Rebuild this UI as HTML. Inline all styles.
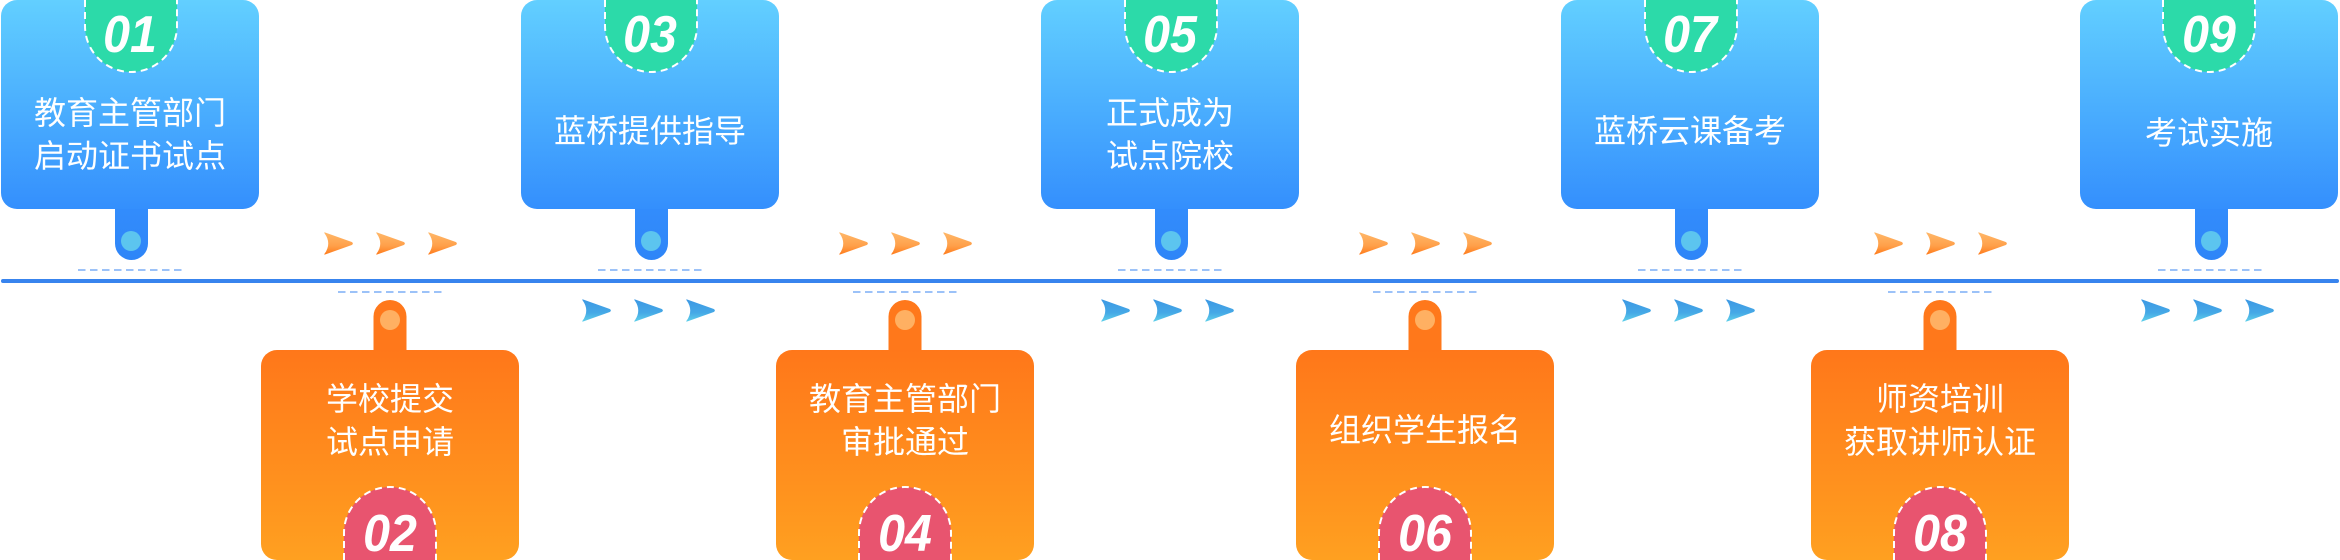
<!DOCTYPE html>
<html>
<head>
<meta charset="utf-8">
<style>
  html,body{margin:0;padding:0;background:#fff;}
  svg{display:block;}
  .t{font-family:"Liberation Sans","Noto Sans CJK SC",sans-serif;font-size:32px;fill:#fff;text-anchor:middle;}
  .n{font-family:"Liberation Sans",sans-serif;font-size:52px;font-weight:bold;font-style:italic;fill:#fff;text-anchor:middle;}
</style>
</head>
<body>
<svg width="2340" height="560" viewBox="0 0 2340 560" xmlns="http://www.w3.org/2000/svg">
  <defs>
    <linearGradient id="gb" x1="0" y1="0" x2="0" y2="1">
      <stop offset="0" stop-color="#62cfff"/>
      <stop offset="1" stop-color="#348ffd"/>
    </linearGradient>
    <linearGradient id="gbs" x1="0" y1="0" x2="0" y2="1">
      <stop offset="0" stop-color="#348ffd"/>
      <stop offset="1" stop-color="#2e85f8"/>
    </linearGradient>
    <linearGradient id="go" x1="0" y1="0" x2="0" y2="1">
      <stop offset="0" stop-color="#ff771a"/>
      <stop offset="1" stop-color="#ffa020"/>
    </linearGradient>
    <linearGradient id="gao" x1="0" y1="0" x2="0" y2="1">
      <stop offset="0" stop-color="#ffb869"/>
      <stop offset="0.6" stop-color="#ffa04a"/>
      <stop offset="1" stop-color="#ff7c1c"/>
    </linearGradient>
    <linearGradient id="gab" x1="0" y1="0" x2="0" y2="1">
      <stop offset="0" stop-color="#3c98e4"/>
      <stop offset="0.6" stop-color="#45a8e6"/>
      <stop offset="1" stop-color="#5fd0ea"/>
    </linearGradient>
    <path id="arr" d="M1.5,1.2 Q0.5,0 2.5,0.6 L28.8,10 Q31,11.5 28.8,13 L2.5,22.4 Q0.5,23 1.5,21.8 Q9,11.5 1.5,1.2 Z"/>
  </defs>

  <!-- main line -->
  <line x1="3" y1="281" x2="2337" y2="281" stroke="#3884ee" stroke-width="4" stroke-linecap="round"/>

  <!-- ===== TOP BOXES ===== -->
  <!-- box 1 -->
  <g>
    <rect x="115" y="190" width="33" height="70" rx="16.5" fill="url(#gbs)"/>
    <rect x="1" y="0" width="258" height="209" rx="16" fill="url(#gb)"/>
    <circle cx="131" cy="241" r="10" fill="#5cc5ef"/>
    <path d="M85,0 V26 A46,46 0 0 0 177,26 V0 Z" fill="#2cdaa9"/>
    <path d="M85,0 V26 A46,46 0 0 0 177,26 V0" fill="none" stroke="#fff" stroke-width="2" stroke-dasharray="7 5"/>
    <text class="n" transform="translate(130,52) scale(0.93,1)">01</text>
    <text class="t" x="130" y="124">教育主管部门</text>
    <text class="t" x="130" y="167">启动证书试点</text>
    <line x1="78" y1="270" x2="182" y2="270" stroke="#9cc2f8" stroke-width="2" stroke-dasharray="7.5 4.5"/>
  </g>
  <!-- box 3 -->
  <g>
    <rect x="635" y="190" width="33" height="70" rx="16.5" fill="url(#gbs)"/>
    <rect x="521" y="0" width="258" height="209" rx="16" fill="url(#gb)"/>
    <circle cx="651" cy="241" r="10" fill="#5cc5ef"/>
    <path d="M605,0 V26 A46,46 0 0 0 697,26 V0 Z" fill="#2cdaa9"/>
    <path d="M605,0 V26 A46,46 0 0 0 697,26 V0" fill="none" stroke="#fff" stroke-width="2" stroke-dasharray="7 5"/>
    <text class="n" transform="translate(650,52) scale(0.93,1)">03</text>
    <text class="t" x="650" y="142">蓝桥提供指导</text>
    <line x1="598" y1="270" x2="702" y2="270" stroke="#9cc2f8" stroke-width="2" stroke-dasharray="7.5 4.5"/>
  </g>
  <!-- box 5 -->
  <g>
    <rect x="1155" y="190" width="33" height="70" rx="16.5" fill="url(#gbs)"/>
    <rect x="1041" y="0" width="258" height="209" rx="16" fill="url(#gb)"/>
    <circle cx="1171" cy="241" r="10" fill="#5cc5ef"/>
    <path d="M1125,0 V26 A46,46 0 0 0 1217,26 V0 Z" fill="#2cdaa9"/>
    <path d="M1125,0 V26 A46,46 0 0 0 1217,26 V0" fill="none" stroke="#fff" stroke-width="2" stroke-dasharray="7 5"/>
    <text class="n" transform="translate(1170,52) scale(0.93,1)">05</text>
    <text class="t" x="1170" y="124">正式成为</text>
    <text class="t" x="1170" y="167">试点院校</text>
    <line x1="1118" y1="270" x2="1222" y2="270" stroke="#9cc2f8" stroke-width="2" stroke-dasharray="7.5 4.5"/>
  </g>
  <!-- box 7 -->
  <g>
    <rect x="1675" y="190" width="33" height="70" rx="16.5" fill="url(#gbs)"/>
    <rect x="1561" y="0" width="258" height="209" rx="16" fill="url(#gb)"/>
    <circle cx="1691" cy="241" r="10" fill="#5cc5ef"/>
    <path d="M1645,0 V26 A46,46 0 0 0 1737,26 V0 Z" fill="#2cdaa9"/>
    <path d="M1645,0 V26 A46,46 0 0 0 1737,26 V0" fill="none" stroke="#fff" stroke-width="2" stroke-dasharray="7 5"/>
    <text class="n" transform="translate(1690,52) scale(0.93,1)">07</text>
    <text class="t" x="1690" y="142">蓝桥云课备考</text>
    <line x1="1638" y1="270" x2="1742" y2="270" stroke="#9cc2f8" stroke-width="2" stroke-dasharray="7.5 4.5"/>
  </g>
  <!-- box 9 -->
  <g>
    <rect x="2195" y="190" width="33" height="70" rx="16.5" fill="url(#gbs)"/>
    <rect x="2080" y="0" width="258" height="209" rx="16" fill="url(#gb)"/>
    <circle cx="2211" cy="241" r="10" fill="#5cc5ef"/>
    <path d="M2163,0 V26 A46,46 0 0 0 2255,26 V0 Z" fill="#2cdaa9"/>
    <path d="M2163,0 V26 A46,46 0 0 0 2255,26 V0" fill="none" stroke="#fff" stroke-width="2" stroke-dasharray="7 5"/>
    <text class="n" transform="translate(2209,52) scale(0.93,1)">09</text>
    <text class="t" x="2209" y="144">考试实施</text>
    <line x1="2158" y1="270" x2="2262" y2="270" stroke="#9cc2f8" stroke-width="2" stroke-dasharray="7.5 4.5"/>
  </g>

  <!-- ===== BOTTOM BOXES ===== -->
  <!-- box 2 (cx 390) -->
  <g>
    <line x1="338" y1="292" x2="442" y2="292" stroke="#9cc2f8" stroke-width="2" stroke-dasharray="7.5 4.5"/>
    <rect x="373.5" y="300" width="33" height="70" rx="16.5" fill="#ff781b"/>
    <rect x="261" y="350" width="258" height="210" rx="16" fill="url(#go)"/>
    <circle cx="390" cy="320" r="10" fill="#ffb062"/>
    <path d="M344,560 V533 A46,46 0 0 1 436,533 V560 Z" fill="#e8546f"/>
    <path d="M344,560 V533 A46,46 0 0 1 436,533 V560" fill="none" stroke="#fff" stroke-width="2" stroke-dasharray="7 5"/>
    <text class="n" transform="translate(390,551) scale(0.93,1)">02</text>
    <text class="t" x="390" y="410">学校提交</text>
    <text class="t" x="390" y="453">试点申请</text>
  </g>
  <!-- box 4 (cx 905) -->
  <g>
    <line x1="853" y1="292" x2="957" y2="292" stroke="#9cc2f8" stroke-width="2" stroke-dasharray="7.5 4.5"/>
    <rect x="888.5" y="300" width="33" height="70" rx="16.5" fill="#ff781b"/>
    <rect x="776" y="350" width="258" height="210" rx="16" fill="url(#go)"/>
    <circle cx="905" cy="320" r="10" fill="#ffb062"/>
    <path d="M859,560 V533 A46,46 0 0 1 951,533 V560 Z" fill="#e8546f"/>
    <path d="M859,560 V533 A46,46 0 0 1 951,533 V560" fill="none" stroke="#fff" stroke-width="2" stroke-dasharray="7 5"/>
    <text class="n" transform="translate(905,551) scale(0.93,1)">04</text>
    <text class="t" x="905" y="410">教育主管部门</text>
    <text class="t" x="905" y="453">审批通过</text>
  </g>
  <!-- box 6 (cx 1425) -->
  <g>
    <line x1="1373" y1="292" x2="1477" y2="292" stroke="#9cc2f8" stroke-width="2" stroke-dasharray="7.5 4.5"/>
    <rect x="1408.5" y="300" width="33" height="70" rx="16.5" fill="#ff781b"/>
    <rect x="1296" y="350" width="258" height="210" rx="16" fill="url(#go)"/>
    <circle cx="1425" cy="320" r="10" fill="#ffb062"/>
    <path d="M1379,560 V533 A46,46 0 0 1 1471,533 V560 Z" fill="#e8546f"/>
    <path d="M1379,560 V533 A46,46 0 0 1 1471,533 V560" fill="none" stroke="#fff" stroke-width="2" stroke-dasharray="7 5"/>
    <text class="n" transform="translate(1425,551) scale(0.93,1)">06</text>
    <text class="t" x="1425" y="441">组织学生报名</text>
  </g>
  <!-- box 8 (cx 1940) -->
  <g>
    <line x1="1888" y1="292" x2="1992" y2="292" stroke="#9cc2f8" stroke-width="2" stroke-dasharray="7.5 4.5"/>
    <rect x="1923.5" y="300" width="33" height="70" rx="16.5" fill="#ff781b"/>
    <rect x="1811" y="350" width="258" height="210" rx="16" fill="url(#go)"/>
    <circle cx="1940" cy="320" r="10" fill="#ffb062"/>
    <path d="M1894,560 V533 A46,46 0 0 1 1986,533 V560 Z" fill="#e8546f"/>
    <path d="M1894,560 V533 A46,46 0 0 1 1986,533 V560" fill="none" stroke="#fff" stroke-width="2" stroke-dasharray="7 5"/>
    <text class="n" transform="translate(1940,551) scale(0.93,1)">08</text>
    <text class="t" x="1940" y="410">师资培训</text>
    <text class="t" x="1940" y="453">获取讲师认证</text>
  </g>

  <!-- ===== ORANGE ARROWS (above line) ===== -->
  <g fill="url(#gao)">
    <use href="#arr" x="323" y="232"/><use href="#arr" x="375" y="232"/><use href="#arr" x="427" y="232"/>
    <use href="#arr" x="838" y="232"/><use href="#arr" x="890" y="232"/><use href="#arr" x="942" y="232"/>
    <use href="#arr" x="1358" y="232"/><use href="#arr" x="1410" y="232"/><use href="#arr" x="1462" y="232"/>
    <use href="#arr" x="1873" y="232"/><use href="#arr" x="1925" y="232"/><use href="#arr" x="1977" y="232"/>
  </g>

  <!-- ===== BLUE ARROWS (below line) ===== -->
  <g fill="url(#gab)">
    <use href="#arr" x="581" y="299"/><use href="#arr" x="633" y="299"/><use href="#arr" x="685" y="299"/>
    <use href="#arr" x="1100" y="299"/><use href="#arr" x="1152" y="299"/><use href="#arr" x="1204" y="299"/>
    <use href="#arr" x="1621" y="299"/><use href="#arr" x="1673" y="299"/><use href="#arr" x="1725" y="299"/>
    <use href="#arr" x="2140" y="299"/><use href="#arr" x="2192" y="299"/><use href="#arr" x="2244" y="299"/>
  </g>
</svg>
</body>
</html>
